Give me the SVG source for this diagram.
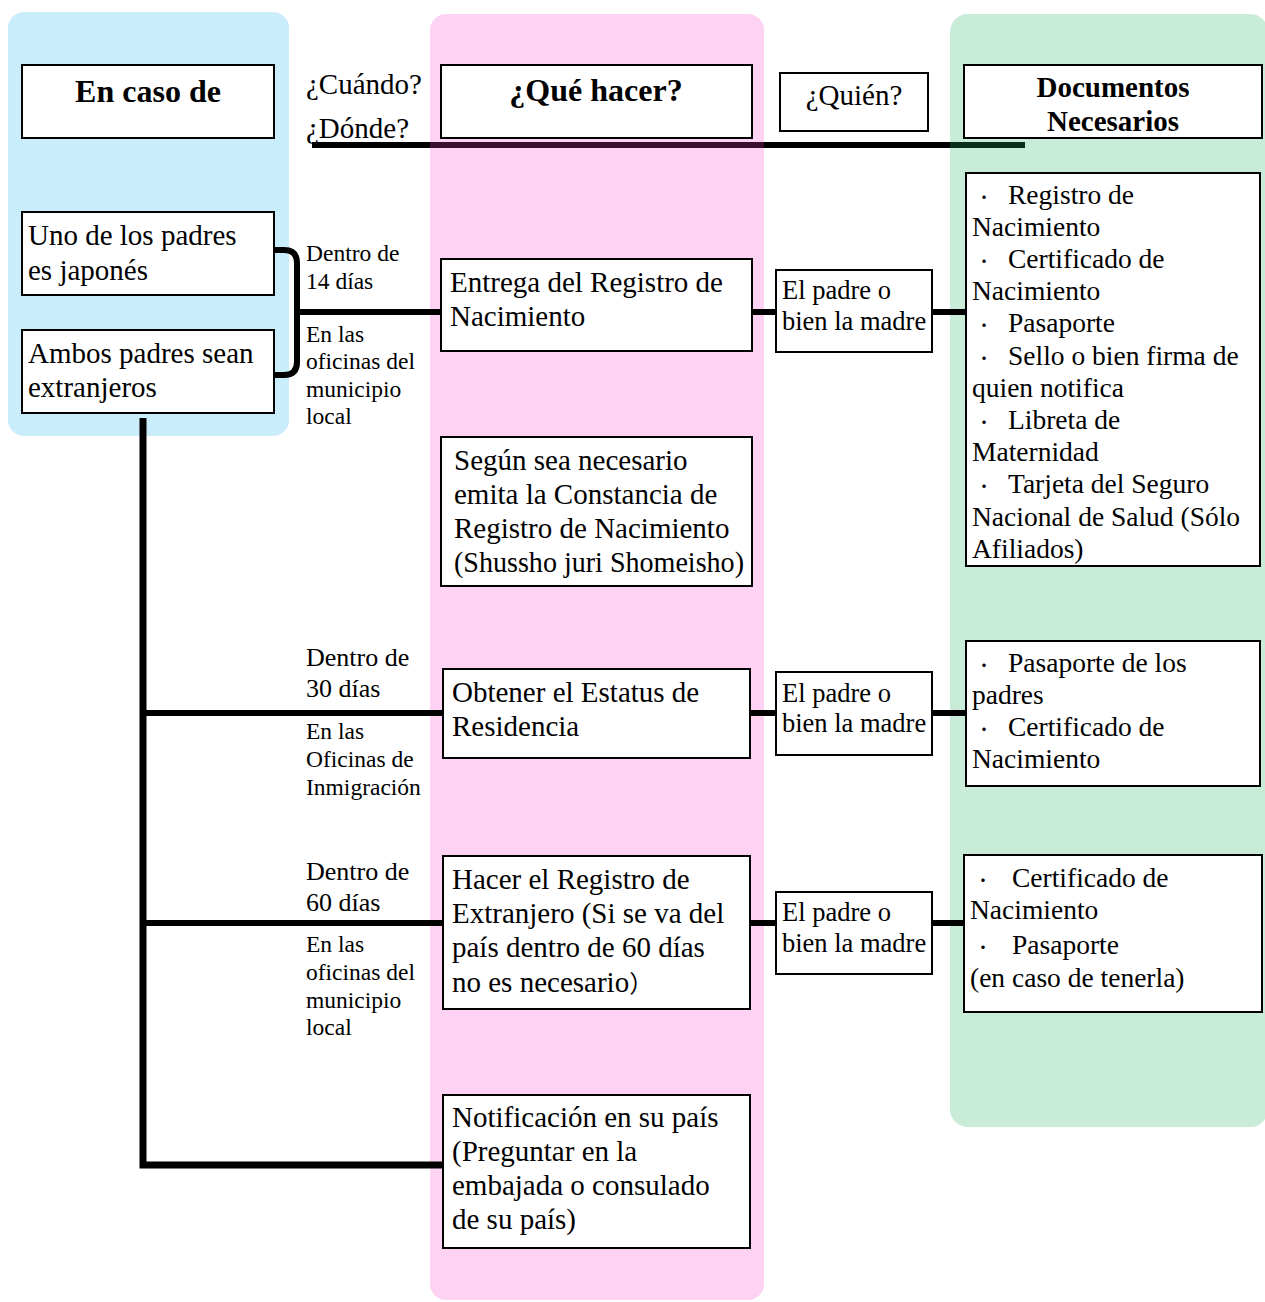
<svg xmlns="http://www.w3.org/2000/svg" width="1265" height="1302" viewBox="0 0 1265 1302">
<style>
.box{fill:#fff;stroke:#000;stroke-width:2}
text{font-family:"Liberation Serif","Times New Roman",serif;fill:#000}
.b{font-family:"Noto Sans CJK JP",sans-serif;font-size:24px}
.bl{font-family:"Noto Sans CJK JP",sans-serif;font-size:16px}
.m{font-size:29px}
.s{font-size:23.5px}
.s2{font-size:26px}
.w{font-size:26.5px}
.d{font-size:27.5px}
.h{font-size:32px;font-weight:bold}
.hd{font-size:29px;font-weight:bold}
.q{font-size:29px}
.c{stroke:#000;stroke-width:6;fill:none}
</style>
<g id="panels">
<rect x="8" y="12" width="281" height="424" rx="16" fill="#caedfb"/>
<rect x="430" y="14" width="334" height="1286" rx="16" fill="#fdd2f3"/>
<rect x="950" y="14" width="318" height="1113" rx="18" fill="#c9ecd9"/>
</g>
<g id="connectors">
<line x1="312" y1="145" x2="430" y2="145" stroke="#000" stroke-width="6"/>
<line x1="430" y1="145" x2="764" y2="145" stroke="#3c0f31" stroke-width="6"/>
<line x1="764" y1="145" x2="950" y2="145" stroke="#000" stroke-width="6"/>
<line x1="950" y1="145" x2="1025" y2="145" stroke="#0a2e1c" stroke-width="6"/>
<path class="c" d="M274,250 H284 Q297,250 297,263 V362 Q297,375 284,375 H274"/>
<line class="c" x1="297" y1="312" x2="441" y2="312"/>
<line class="c" x1="752" y1="312" x2="776" y2="312"/>
<line class="c" x1="932" y1="312" x2="966" y2="312"/>
<path d="M143,418 V1165 H443" fill="none" stroke="#000" stroke-width="7"/>
<line class="c" x1="143" y1="713" x2="443" y2="713"/>
<line class="c" x1="750" y1="713" x2="776" y2="713"/>
<line class="c" x1="932" y1="713" x2="966" y2="713"/>
<line class="c" x1="143" y1="923" x2="443" y2="923"/>
<line class="c" x1="750" y1="923" x2="776" y2="923"/>
<line class="c" x1="932" y1="923" x2="964" y2="923"/>
</g>
<g id="labels">
<text class="q" x="306" y="94">¿Cuándo?</text>
<text class="q" x="306" y="138">¿Dónde?</text>
<text class="s" x="306" y="261">Dentro de</text>
<text class="s" x="306" y="289">14 días</text>
<text class="s" x="306" y="342">En las</text>
<text class="s" x="306" y="369">oficinas del</text>
<text class="s" x="306" y="397">municipio</text>
<text class="s" x="306" y="424">local</text>
<text class="s2" x="306" y="666">Dentro de</text>
<text class="s2" x="306" y="697">30 días</text>
<text class="s" x="306" y="739">En las</text>
<text class="s" x="306" y="767">Oficinas de</text>
<text class="s" x="306" y="795">Inmigración</text>
<text class="s2" x="306" y="880">Dentro de</text>
<text class="s2" x="306" y="911">60 días</text>
<text class="s" x="306" y="952">En las</text>
<text class="s" x="306" y="980">oficinas del</text>
<text class="s" x="306" y="1008">municipio</text>
<text class="s" x="306" y="1035">local</text>
</g>
<g id="h-encaso"><rect class="box" x="22" y="65" width="252" height="73"/><text class="h" x="148" y="102" text-anchor="middle">En caso de</text></g>
<g id="h-que"><rect class="box" x="441" y="65" width="311" height="73"/><text class="h" x="596" y="101" text-anchor="middle">¿Qué hacer?</text></g>
<g id="h-quien"><rect class="box" x="780" y="73" width="148" height="58"/><text class="q" x="854" y="105" text-anchor="middle">¿Quién?</text></g>
<g id="h-docs"><rect class="box" x="964" y="65" width="298" height="73"/><text class="hd" x="1113" y="97" text-anchor="middle">Documentos</text><text class="hd" x="1113" y="131" text-anchor="middle">Necesarios</text></g>
<g id="case-jp"><rect class="box" x="22" y="212" width="252" height="83"/><text class="m" x="28" y="245">Uno de los padres</text><text class="m" x="28" y="280">es japonés</text></g>
<g id="case-ext"><rect class="box" x="22" y="330" width="252" height="83"/><text class="m" x="28" y="363">Ambos padres sean</text><text class="m" x="28" y="397">extranjeros</text></g>
<g id="do-registro"><rect class="box" x="441" y="259" width="311" height="92"/><text class="m" x="450" y="292">Entrega del Registro de</text><text class="m" x="450" y="326">Nacimiento</text></g>
<g id="do-constancia"><rect class="box" x="441" y="437" width="311" height="149"/><text class="m" x="454" y="470">Según sea necesario</text><text class="m" x="454" y="504">emita la Constancia de</text><text class="m" x="454" y="538">Registro de Nacimiento</text><text class="m" x="454" y="572" textLength="290" lengthAdjust="spacingAndGlyphs">(Shussho juri Shomeisho)</text></g>
<g id="do-estatus"><rect class="box" x="443" y="669" width="307" height="89"/><text class="m" x="452" y="702">Obtener el Estatus de</text><text class="m" x="452" y="736">Residencia</text></g>
<g id="do-extranjero"><rect class="box" x="443" y="856" width="307" height="153"/><text class="m" x="452" y="889">Hacer el Registro de</text><text class="m" x="452" y="923">Extranjero (Si se va del</text><text class="m" x="452" y="957">país dentro de 60 días</text><text class="m" x="452" y="992">no es necesario<tspan class="b">）</tspan></text></g>
<g id="do-pais"><rect class="box" x="443" y="1095" width="307" height="153"/><text class="m" x="452" y="1127">Notificación en su país</text><text class="m" x="452" y="1161">(Preguntar en la</text><text class="m" x="452" y="1195">embajada o consulado</text><text class="m" x="452" y="1229">de su país)</text></g>
<g id="who-1"><rect class="box" x="776" y="270" width="156" height="82"/><text class="w" x="782" y="299">El padre o</text><text class="w" x="782" y="330">bien la madre</text></g>
<g id="who-2"><rect class="box" x="776" y="672" width="156" height="83"/><text class="w" x="782" y="702">El padre o</text><text class="w" x="782" y="732">bien la madre</text></g>
<g id="who-3"><rect class="box" x="776" y="892" width="156" height="82"/><text class="w" x="782" y="921">El padre o</text><text class="w" x="782" y="952">bien la madre</text></g>
<g id="docs-1"><rect class="box" x="966" y="173" width="294" height="393"/>
<text class="d"><tspan class="bl" x="976" y="203">・</tspan><tspan x="1008" y="204">Registro de</tspan><tspan x="972" y="236">Nacimiento</tspan><tspan class="bl" x="976" y="267">・</tspan><tspan x="1008" y="268">Certificado de</tspan><tspan x="972" y="300">Nacimiento</tspan><tspan class="bl" x="976" y="331">・</tspan><tspan x="1008" y="332">Pasaporte</tspan><tspan class="bl" x="976" y="364">・</tspan><tspan x="1008" y="365">Sello o bien firma de</tspan><tspan x="972" y="397">quien notifica</tspan><tspan class="bl" x="976" y="428">・</tspan><tspan x="1008" y="429">Libreta de</tspan><tspan x="972" y="461">Maternidad</tspan><tspan class="bl" x="976" y="492">・</tspan><tspan x="1008" y="493">Tarjeta del Seguro</tspan><tspan x="972" y="526">Nacional de Salud (Sólo</tspan><tspan x="972" y="558">Afiliados)</tspan></text></g>
<g id="docs-2"><rect class="box" x="966" y="641" width="294" height="145"/>
<text class="d"><tspan class="bl" x="976" y="671">・</tspan><tspan x="1008" y="672">Pasaporte de los</tspan><tspan x="972" y="704">padres</tspan><tspan class="bl" x="976" y="735">・</tspan><tspan x="1008" y="736">Certificado de</tspan><tspan x="972" y="768">Nacimiento</tspan></text></g>
<g id="docs-3"><rect class="box" x="964" y="855" width="298" height="157"/>
<text class="d"><tspan class="bl" x="975" y="886">・</tspan><tspan x="1012" y="887">Certificado de</tspan><tspan x="970" y="919">Nacimiento</tspan><tspan class="bl" x="975" y="953">・</tspan><tspan x="1012" y="954">Pasaporte</tspan><tspan x="970" y="987">(en caso de tenerla)</tspan></text></g>
</svg>
